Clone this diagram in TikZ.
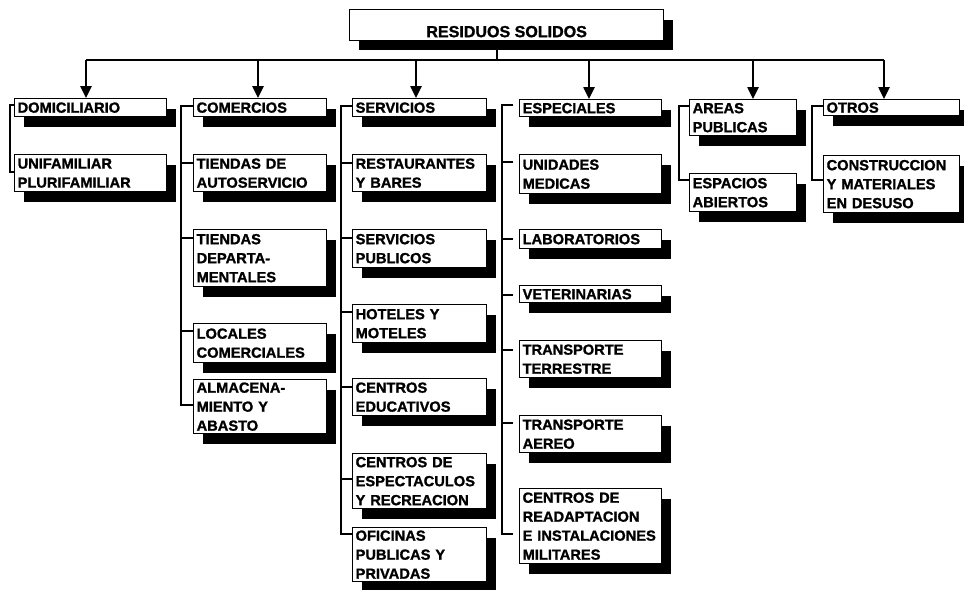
\documentclass[tikz,border=0pt]{standalone}
\usepackage{fontspec}
\setmainfont{Liberation Sans}[BoldFeatures={FakeBold=1.3}]
\usetikzlibrary{arrows.meta,calc,shadows}
\begin{document}
\begin{tikzpicture}[x=0.3mm,y=-0.3mm,
  blackshadow/.style={drop shadow={shadow xshift=2.8mm,shadow yshift=-3mm,fill=black,opacity=1}},
  box/.style={draw,line width=1.1pt,fill=white,anchor=north west,inner xsep=0.9mm,inner ysep=0pt,
    align=left,text width=#1,font=\fontsize{12.5}{16.2}\selectfont\bfseries,blackshadow},
  title/.style={draw,line width=1.1pt,fill=white,anchor=north west,minimum width=94.2mm,inner sep=0pt,
    text height=23.5pt,text depth=2.8pt,font=\fontsize{13.7}{16}\selectfont\bfseries,blackshadow},
  link/.style={line width=0.9pt},
  arr/.style={line width=1.3pt,-{Triangle[length=3.6mm,width=3.4mm]}}]
\useasboundingbox (0,0) rectangle (964,589);
\node[title] (tit) at (349,9) {RESIDUOS SOLIDOS\hspace{3mm}};
\node[box=43.8mm,minimum height=5.4mm] (dom) at (14,98) {DOMICILIARIO};
\node[box=43.8mm,minimum height=11.1mm] (uni) at (14,154) {UNIFAMILIAR\\PLURIFAMILIAR};
\node[box=38.1mm,minimum height=5.4mm] (com) at (193,98) {COMERCIOS};
\node[box=38.1mm,minimum height=11.1mm] (tda) at (193,154) {TIENDAS DE\\AUTOSERVICIO};
\node[box=38.1mm,minimum height=17.1mm] (tdd) at (193,229) {TIENDAS\\DEPARTA-\\MENTALES};
\node[box=38.1mm,minimum height=11.7mm] (loc) at (193,323) {LOCALES\\COMERCIALES};
\node[box=38.1mm,minimum height=16.2mm] (alm) at (193,379) {ALMACENA-\\MIENTO Y\\ABASTO};
\node[box=38.4mm,minimum height=5.4mm] (ser) at (352,98) {SERVICIOS};
\node[box=38.4mm,minimum height=11.1mm] (res) at (352,154) {RESTAURANTES\\Y BARES};
\node[box=38.4mm,minimum height=11.4mm] (spu) at (352,229) {SERVICIOS\\PUBLICOS};
\node[box=38.4mm,minimum height=11.4mm] (hot) at (352,304) {HOTELES Y\\MOTELES};
\node[box=38.4mm,minimum height=11.1mm] (edu) at (352,378) {CENTROS\\EDUCATIVOS};
\node[box=38.4mm,minimum height=16.5mm] (esp) at (352,453) {CENTROS DE\\ESPECTACULOS\\Y RECREACION};
\node[box=38.4mm,minimum height=16.2mm] (ofi) at (352,527) {OFICINAS\\PUBLICAS Y\\PRIVADAS};
\node[box=40.8mm,minimum height=5.1mm] (espc) at (519,99) {ESPECIALES};
\node[box=40.8mm,minimum height=11.7mm] (med) at (519,154) {UNIDADES\\MEDICAS};
\node[box=40.8mm,minimum height=5.7mm] (lab) at (519,229) {LABORATORIOS};
\node[box=40.8mm,minimum height=5.1mm] (vet) at (519,285) {VETERINARIAS};
\node[box=40.8mm,minimum height=11.1mm] (ter) at (519,340) {TRANSPORTE\\TERRESTRE};
\node[box=40.8mm,minimum height=11.1mm] (aer) at (519,415) {TRANSPORTE\\AEREO};
\node[box=40.8mm,minimum height=22.5mm] (mil) at (519,488) {CENTROS DE\\READAPTACION\\E INSTALACIONES\\MILITARES};
\node[box=30.3mm,minimum height=10.8mm] (are) at (689,99) {AREAS\\PUBLICAS};
\node[box=30.3mm,minimum height=11.4mm] (abi) at (689,173) {ESPACIOS\\ABIERTOS};
\node[box=39.0mm,minimum height=4.8mm] (otr) at (823,99) {OTROS};
\node[box=39.0mm,minimum height=17.1mm] (con) at (823,155) {CONSTRUCCION\\Y MATERIALES\\EN DESUSO};
\coordinate (b0) at (497,60);
\coordinate (b1) at (86,60);
\coordinate (b2) at (258,60);
\coordinate (b3) at (416,60);
\coordinate (b4) at (589,60);
\coordinate (b5) at (753,60);
\coordinate (b6) at (884,60);
\draw[link] (b0 |- tit.south) -- (b0);
\draw[link] (b1) -- (b6);
\foreach \b/\n in {b1/dom,b2/com,b3/ser,b4/espc,b5/are,b6/otr}
  \draw[arr] (\b) -- (\b |- \n.north);
\draw[link] ($(dom.north west)+(0,7)$) -| ($(uni.north west)+(-4,18)$) -- ($(uni.north west)+(0,18)$);
\draw[link] ($(com.north west)+(0,8)$) -| ($(alm.north west)+(-12,26)$) -- ($(alm.north west)+(0,26)$);
\foreach \n/\d in {tda/9,tdd/9,loc/8}
  \draw[link] ($(\n.north west)+(0,\d)$) -- ++(-12,0);
\draw[link] ($(ser.north west)+(0,8)$) -| ($(ofi.north west)+(-11,7)$) -- ($(ofi.north west)+(0,7)$);
\foreach \n/\d in {res/9,spu/9,hot/8,edu/9,esp/26}
  \draw[link] ($(\n.north west)+(0,\d)$) -- ++(-11,0);
\draw[link] ($(espc.north west)+(-6,6)$) -- ++(-11,0) |- ($(mil.north west)+(-6,46)$);
\foreach \n/\d in {med/8,lab/10,vet/10,ter/10,aer/8}
  \draw[link] ($(\n.north west)+(-6,\d)$) -- ++(-11,0);
\draw[link] ($(are.north west)+(0,7)$) -| ($(abi.north west)+(-10,7)$) -- ($(abi.north west)+(0,7)$);
\draw[link] ($(otr.north west)+(0,7)$) -| ($(con.north west)+(-11,25)$) -- ($(con.north west)+(0,25)$);
\end{tikzpicture}
\end{document}
